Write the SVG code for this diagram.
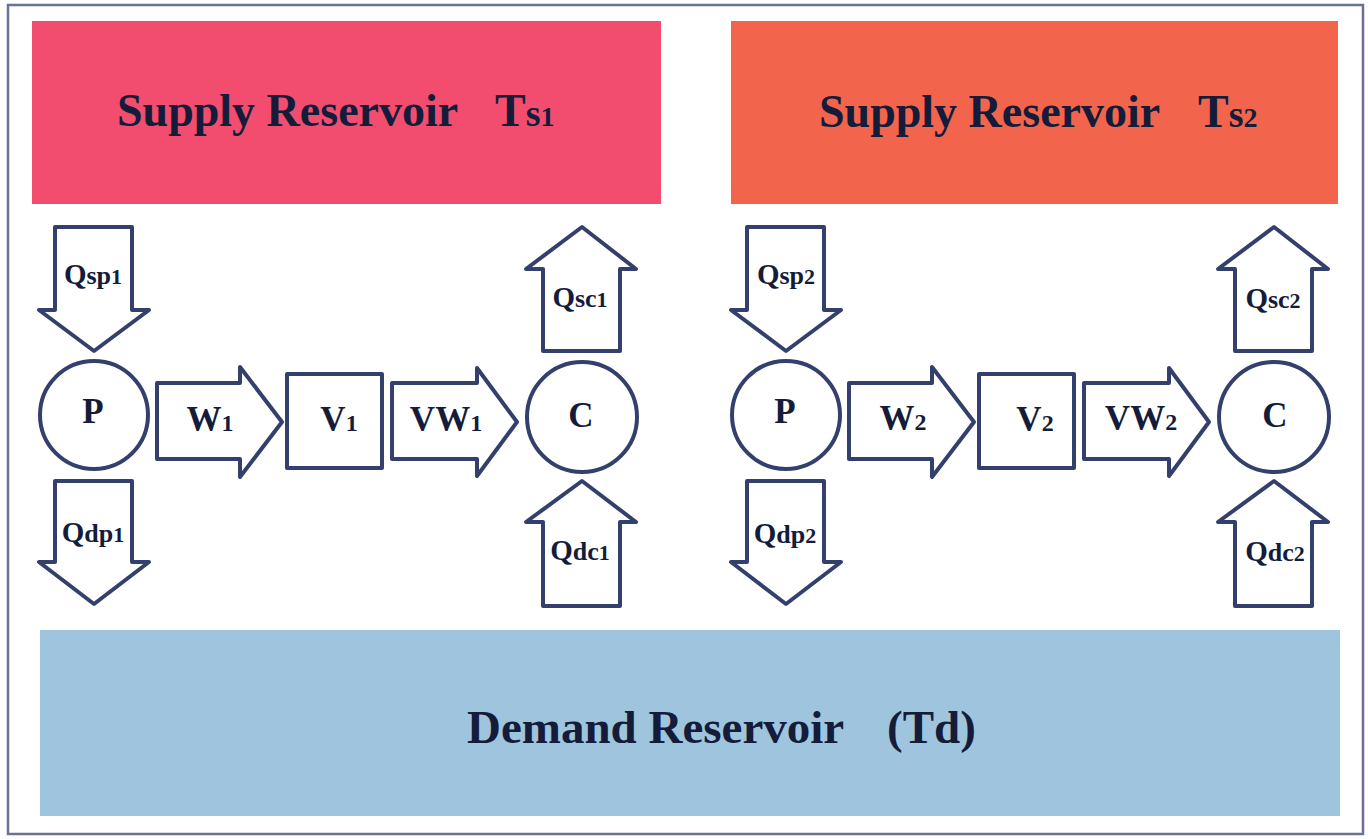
<svg xmlns="http://www.w3.org/2000/svg" width="1368" height="839" viewBox="0 0 1368 839">
  <style>
    .frame { fill: #ffffff; stroke: #6a7393; stroke-width: 2.5; }
    .shape { fill: #ffffff; stroke: #33406d; stroke-width: 4; stroke-linejoin: round; }
    .txt { font-family: "Liberation Serif", "Times New Roman", serif; font-weight: bold; fill: #141c3a; }
    .title { font-size: 46px; }
    .big { font-size: 35px; text-anchor: middle; }
    .q { font-size: 29px; text-anchor: middle; }
    .sm { font-size: 24px; }
    .qs { font-size: 26px; }
    .dg { font-size: 22px; }
  </style>

  <!-- page frame -->
  <rect class="frame" x="8" y="5" width="1355" height="829"/>

  <!-- reservoirs -->
  <g id="supply1">
    <rect x="32" y="21" width="629" height="183" fill="#f24d6e"/>
    <text class="txt title" x="117" y="126">Supply Reservoir</text>
    <text class="txt title" x="495" y="126">T<tspan font-size="38">s</tspan><tspan font-size="28">1</tspan></text>
  </g>
  <g id="supply2">
    <rect x="731" y="21" width="607" height="183" fill="#f2654c"/>
    <text class="txt title" x="819" y="127">Supply Reservoir</text>
    <text class="txt title" x="1198" y="127">T<tspan font-size="38">s</tspan><tspan font-size="28">2</tspan></text>
  </g>
  <g id="demand">
    <rect x="40" y="630" width="1300" height="186" fill="#9fc5de"/>
    <text class="txt" font-size="47" x="467" y="743">Demand Reservoir</text>
    <text class="txt" font-size="47" x="887" y="743">(Td)</text>
  </g>

  <!-- system 1 nodes -->
  <g id="P1">
    <circle class="shape" cx="94" cy="415" r="54"/>
    <text class="txt big" x="93" y="423">P</text>
  </g>
  <g id="V1">
    <rect class="shape" x="287" y="374" width="95" height="94"/>
    <text class="txt big" x="339" y="431">V<tspan class="sm">1</tspan></text>
  </g>
  <g id="C1">
    <circle class="shape" cx="582" cy="417" r="55"/>
    <text class="txt big" x="581" y="427">C</text>
  </g>

  <!-- system 2 nodes -->
  <g id="P2">
    <circle class="shape" cx="786" cy="415" r="54"/>
    <text class="txt big" x="785" y="423">P</text>
  </g>
  <g id="V2">
    <rect class="shape" x="979" y="374" width="95" height="94"/>
    <text class="txt big" x="1035" y="431">V<tspan class="sm">2</tspan></text>
  </g>
  <g id="C2">
    <circle class="shape" cx="1274" cy="417" r="55"/>
    <text class="txt big" x="1275" y="427">C</text>
  </g>

  <!-- flows drawn as block arrows -->
  <g id="connectors">
    <g id="Qsp1">
      <polygon class="shape" points="55,227 132,227 132,310 149,310 94,351 39,310 55,310"/>
      <text class="txt q" x="93" y="284">Q<tspan class="qs">sp</tspan><tspan class="dg">1</tspan></text>
    </g>
    <g id="Qdp1">
      <polygon class="shape" points="55,481 132,481 132,562 149,562 94,604 39,562 55,562"/>
      <text class="txt q" x="93" y="542">Q<tspan class="qs">dp</tspan><tspan class="dg">1</tspan></text>
    </g>
    <g id="W1">
      <polygon class="shape" points="157,383 240,383 240,367 282,422 240,477 240,459 157,459"/>
      <text class="txt big" x="210" y="431">W<tspan class="sm">1</tspan></text>
    </g>
    <g id="VW1">
      <polygon class="shape" points="392,383 477,383 477,368 517,422 477,476 477,459 392,459"/>
      <text class="txt big" x="446" y="431">VW<tspan class="sm">1</tspan></text>
    </g>
    <g id="Qsc1">
      <polygon class="shape" points="543,351 543,269 526,269 582,227 636,269 620,269 620,351"/>
      <text class="txt q" x="580" y="307">Q<tspan class="qs">sc</tspan><tspan class="dg">1</tspan></text>
    </g>
    <g id="Qdc1">
      <polygon class="shape" points="543,606 543,522 526,522 582,481 636,522 620,522 620,606"/>
      <text class="txt q" x="580" y="560">Q<tspan class="qs">dc</tspan><tspan class="dg">1</tspan></text>
    </g>

    <g id="Qsp2">
      <polygon class="shape" points="747,227 824,227 824,310 841,310 786,351 731,310 747,310"/>
      <text class="txt q" x="786" y="284">Q<tspan class="qs">sp</tspan><tspan class="dg">2</tspan></text>
    </g>
    <g id="Qdp2">
      <polygon class="shape" points="747,481 824,481 824,562 841,562 786,604 731,562 747,562"/>
      <text class="txt q" x="785" y="543">Q<tspan class="qs">dp</tspan><tspan class="dg">2</tspan></text>
    </g>
    <g id="W2">
      <polygon class="shape" points="849,383 932,383 932,367 974,422 932,477 932,459 849,459"/>
      <text class="txt big" x="903" y="430">W<tspan class="sm">2</tspan></text>
    </g>
    <g id="VW2">
      <polygon class="shape" points="1084,383 1169,383 1169,368 1209,422 1169,476 1169,459 1084,459"/>
      <text class="txt big" x="1141" y="430">VW<tspan class="sm">2</tspan></text>
    </g>
    <g id="Qsc2">
      <polygon class="shape" points="1235,351 1235,269 1218,269 1274,227 1328,269 1312,269 1312,351"/>
      <text class="txt q" x="1273" y="308">Q<tspan class="qs">sc</tspan><tspan class="dg">2</tspan></text>
    </g>
    <g id="Qdc2">
      <polygon class="shape" points="1235,606 1235,522 1218,522 1274,481 1328,522 1312,522 1312,606"/>
      <text class="txt q" x="1275" y="561">Q<tspan class="qs">dc</tspan><tspan class="dg">2</tspan></text>
    </g>
  </g>
</svg>
